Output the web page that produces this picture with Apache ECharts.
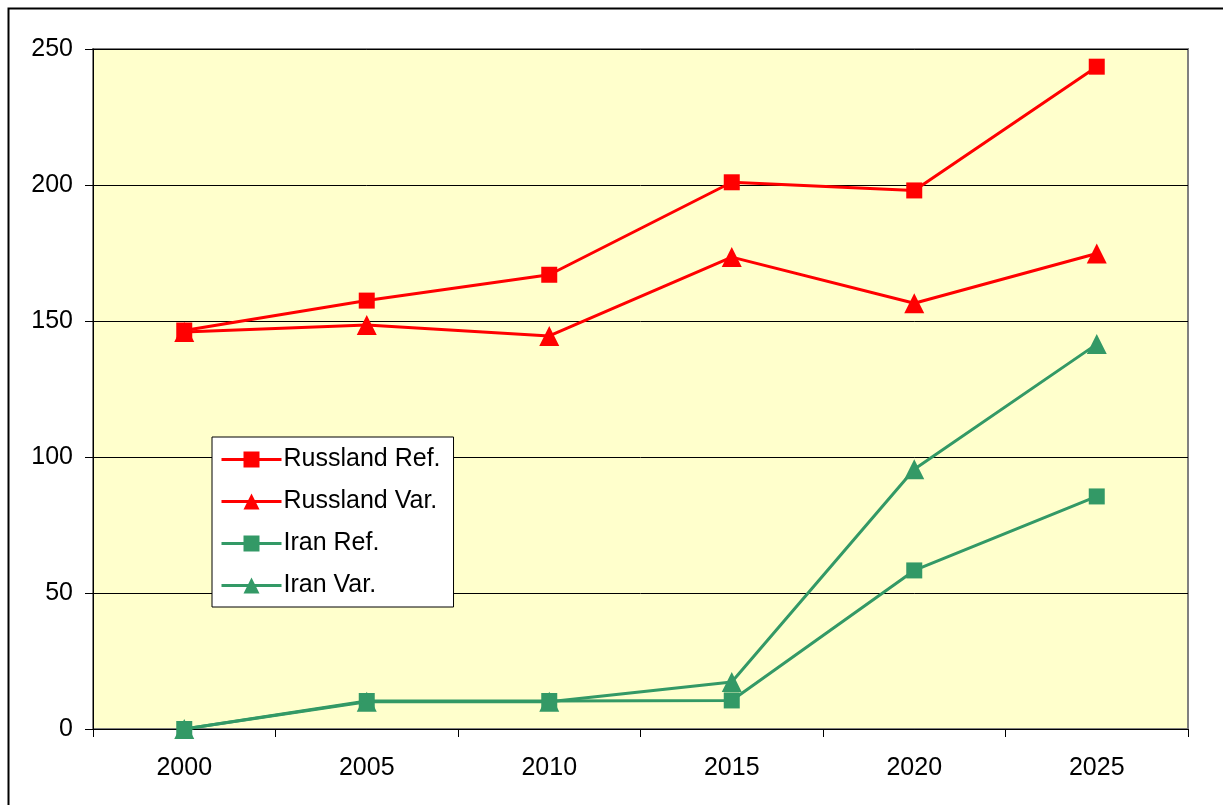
<!DOCTYPE html>
<html>
<head>
<meta charset="utf-8">
<script src="https://cdn.jsdelivr.net/npm/echarts@6/dist/echarts.min.js"></script>
<style>
  html, body { margin: 0; padding: 0; background: #fff; }
  #chart { width: 1223px; height: 805px; }
</style>
</head>
<body>
<div id="chart"></div>
<script>
var years = ["2000", "2005", "2010", "2015", "2020", "2025"];
var russlandRef = [146.5, 157.5, 167, 201, 198, 243.5];
var russlandVar = [146, 148.5, 144.5, 173.5, 156.5, 174.8];
var iranRef = [0, 10.3, 10.3, 10.5, 58.3, 85.5];
var iranVar = [0, 10, 10, 17.3, 95.5, 141.5];

var RED = "#FF0000", GREEN = "#339966";

function mkSeries(name, data, color, symbol, size) {
  return {
    name: name, type: "line", data: data,
    symbol: symbol, symbolSize: size,
    lineStyle: { color: color, width: 3 },
    itemStyle: { color: color },
    animation: false
  };
}

var chart = echarts.init(document.getElementById("chart"));
chart.setOption({
  backgroundColor: "#fff",
  animation: false,
  textStyle: { fontFamily: "Liberation Sans, Arial, sans-serif" },
  graphic: [{
    type: "rect", left: 6, top: 6, z: -1,
    shape: { width: 1240, height: 820 },
    style: { fill: null, stroke: "#000", lineWidth: 2 }
  }],
  grid: {
    left: 93, top: 49, right: 35, bottom: 76,
    show: true, backgroundColor: "#FFFFCC",
    borderColor: "#808080", borderWidth: 2
  },
  legend: {
    orient: "vertical", left: 212, top: 437,
    backgroundColor: "#fff", borderColor: "#000", borderWidth: 1,
    padding: [10, 13, 9, 8], itemGap: 17,
    itemWidth: 60, itemHeight: 20,
    lineStyle: { width: 3 },
    textStyle: { fontSize: 25, color: "#000", padding: [0, 0, 0, -3] },
    data: ["Russland Ref.", "Russland Var.", "Iran Ref.", "Iran Var."]
  },
  xAxis: {
    type: "category", data: years, boundaryGap: true,
    axisLine: { lineStyle: { color: "#000", width: 1 } },
    axisTick: { show: true, length: 8, lineStyle: { color: "#000" } },
    axisLabel: { fontSize: 25, color: "#000", margin: 27 }
  },
  yAxis: {
    type: "value", min: 0, max: 250, interval: 50,
    axisLine: { show: true, lineStyle: { color: "#000", width: 1 } },
    axisTick: { show: true, length: 8, lineStyle: { color: "#000" } },
    axisLabel: { fontSize: 25, color: "#000", margin: 20 },
    splitLine: { lineStyle: { color: "#000", width: 1 } }
  },
  series: [
    mkSeries("Russland Ref.", russlandRef, RED, "rect", 16),
    mkSeries("Russland Var.", russlandVar, RED, "triangle", 20),
    mkSeries("Iran Ref.", iranRef, GREEN, "rect", 16),
    mkSeries("Iran Var.", iranVar, GREEN, "triangle", 20)
  ]
});
</script>
</body>
</html>
